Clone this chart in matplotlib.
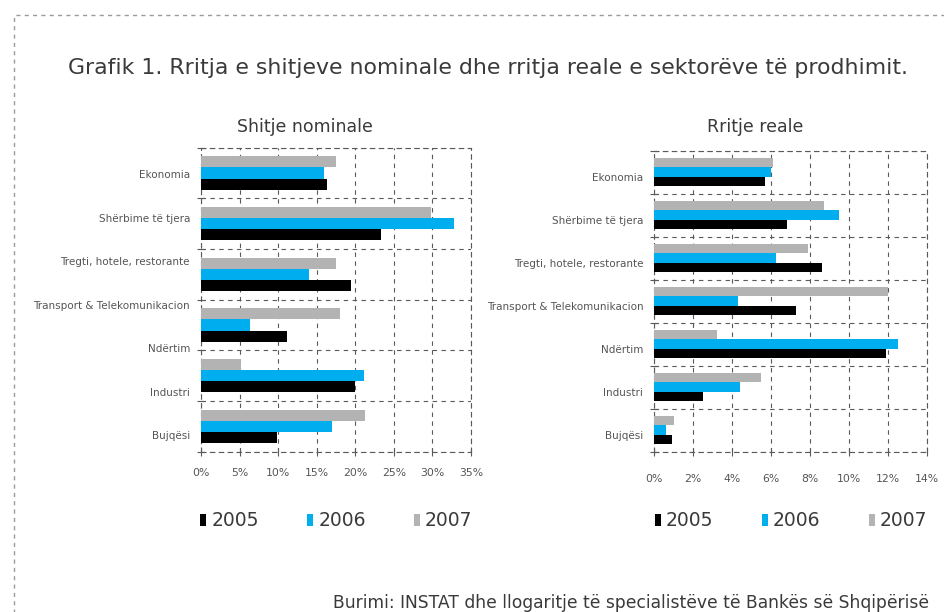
import matplotlib
matplotlib.use("Agg")
import matplotlib.pyplot as plt
import numpy as np
from matplotlib.patches import Rectangle
from matplotlib.transforms import ScaledTranslation

plt.rcParams['font.family'] = ['DejaVu Sans']

# Sector labels (top to bottom)
categories = [
    "Ekonomia",
    "Shërbime të tjera",
    "Tregti, hotele, restorante",
    "Transport & Telekomunikacion",
    "Ndërtim",
    "Industri",
    "Bujqësi",
]
years = ["2005", "2006", "2007"]

# Nominal sales growth, % (six bar groups drawn)
nominal_2005 = [16.3, 23.3, 19.4, 11.1, 20.0, 9.8]
nominal_2006 = [15.9, 32.8, 14.0, 6.4, 21.1, 17.0]
nominal_2007 = [17.5, 29.8, 17.5, 18.0, 5.2, 21.3]

# Real growth, %
real_2005 = [5.7, 6.8, 8.6, 7.3, 11.9, 2.5, 0.9]
real_2006 = [6.0, 9.5, 6.25, 4.3, 12.5, 4.4, 0.6]
real_2007 = [6.1, 8.7, 7.9, 12.0, 3.2, 5.5, 1.0]

colors = {"2005": "#000000", "2006": "#00AEEF", "2007": "#B3B3B3"}
grid_color = "#5a5a5a"
dash = (0, (4, 4))

W, H = 945, 612
fig = plt.figure(figsize=(W / 100, H / 100), dpi=100)


def fx(px):
    return px / W


def fy(py):
    return 1 - py / H


# dashed outer frame
fig.patches.append(Rectangle((fx(14), -0.1), 1.2, fy(14.5) + 0.1,
                             transform=fig.transFigure, fill=False,
                             edgecolor="#9a9a9a", lw=1.0, linestyle=(0, (3, 3))))

fig.text(fx(68), fy(68),
         "Grafik 1. Rritja e shitjeve nominale dhe rritja reale e sektorëve të prodhimit.",
         ha="left", va="center", fontsize=15.85, color="#3a3a3a")


def draw_panel(ax, series, n_groups, xmax, xstep, label_pos, xpad):
    h = 0.22
    y = np.arange(n_groups)
    for k, (yr, vals) in enumerate(zip(years, series)):
        ax.barh(y + (1 - k) * h, vals, height=h, color=colors[yr], label=yr, zorder=3)
    ax.set_ylim(n_groups - 0.5, -0.5)
    ax.set_xlim(0, xmax)
    ax.set_xticks(np.arange(0, xmax + 0.01, xstep))
    ax.xaxis.set_major_formatter(lambda v, p: f"{v:.0f}%")
    ax.yaxis.remove_overlapping_locs = False
    ax.set_yticks(label_pos)
    ax.set_yticklabels(categories)
    ax.set_yticks(np.arange(n_groups + 1) - 0.5, minor=True)
    ax.tick_params(axis="y", which="major", length=0, labelsize=7.5,
                   labelcolor="#555555", pad=8)
    ax.tick_params(axis="y", which="minor", length=6, direction="inout",
                   color=grid_color, width=0.8)
    ax.tick_params(axis="x", which="major", length=6, direction="inout",
                   color=grid_color, width=0.8, labelsize=7.8,
                   labelcolor="#555555", pad=xpad)
    shift = ScaledTranslation(0, -5 / 100, fig.dpi_scale_trans)
    for lbl in ax.get_yticklabels():
        lbl.set_transform(lbl.get_transform() + shift)
    ax.set_axisbelow(True)
    ax.grid(axis="x", which="major", linestyle=dash, color=grid_color, lw=0.8)
    ax.grid(axis="y", which="minor", linestyle=dash, color=grid_color, lw=0.8)
    for s in ax.spines.values():
        s.set_linestyle(dash)
        s.set_color(grid_color)
        s.set_linewidth(0.8)


ax1 = fig.add_axes([fx(201), fy(451.7), fx(270), 304 / H])
n1 = len(nominal_2005)
draw_panel(ax1, [nominal_2005, nominal_2006, nominal_2007], n1, 35, 5,
           -0.5 + (np.arange(len(categories)) + 0.5) * n1 / len(categories), 9)

ax2 = fig.add_axes([fx(654.3), fy(451.7), fx(272.4), 301 / H])
draw_panel(ax2, [real_2005, real_2006, real_2007], len(real_2005), 14, 2,
           np.arange(len(categories)), 13)

fig.text(fx(304.7), fy(127), "Shitje nominale", ha="center", va="center",
         fontsize=12.5, color="#3a3a3a")
fig.text(fx(755), fy(127), "Rritje reale", ha="center", va="center",
         fontsize=12.5, color="#3a3a3a")

for ax, x0 in ((ax1, 200.5), (ax2, 655)):
    handles, labels = ax.get_legend_handles_labels()
    fig.legend(handles, labels, loc="center left",
               bbox_to_anchor=(fx(x0), fy(521)), ncol=3, frameon=False,
               fontsize=13.5, handlelength=0.32, handleheight=0.55,
               handletextpad=0.25, columnspacing=2.6, borderpad=0,
               borderaxespad=0, labelcolor="#3a3a3a")

fig.text(fx(333), fy(603),
         "Burimi: INSTAT dhe llogaritje të specialistëve të Bankës së Shqipërisë",
         ha="left", va="center", fontsize=12.3, color="#3a3a3a")

fig.savefig("out.png", dpi=100)
